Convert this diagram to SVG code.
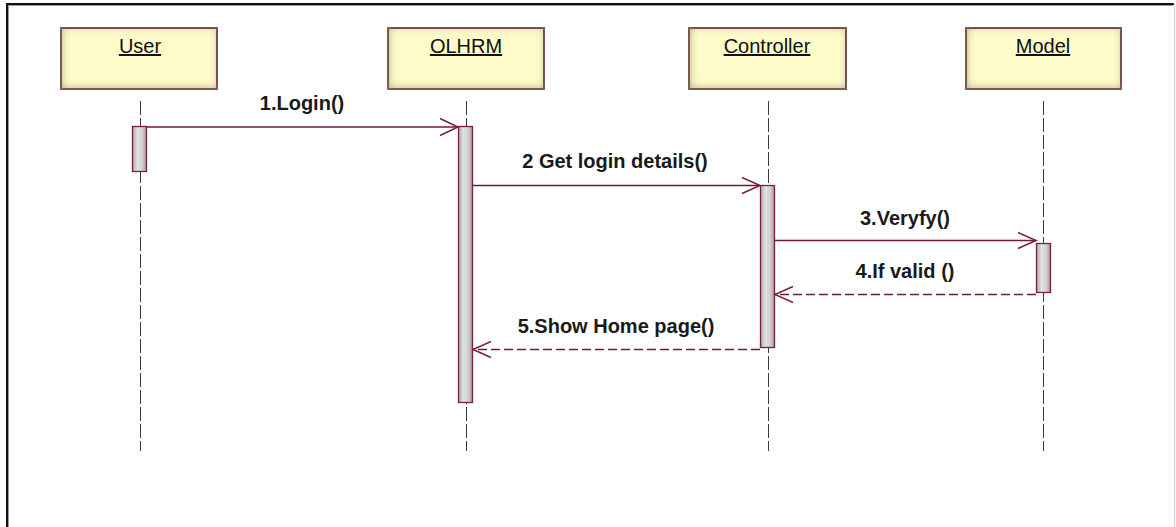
<svg xmlns="http://www.w3.org/2000/svg" width="1176" height="527" viewBox="0 0 1176 527">
  <style>
    .obj rect { fill: #fdfbc9; stroke: #74364f; stroke-width: 2; }
    .obj text { font-family: "Liberation Sans", Arial, sans-serif; font-size: 20px; fill: #111111; text-anchor: middle; text-decoration: underline; }
    .life { stroke: #3a3a3a; stroke-width: 1; stroke-dasharray: 14 3; fill: none; }
    .act { fill: url(#actFill); stroke: #7a1f42; stroke-width: 1.3; }
    .msg { stroke: #6e1a3c; stroke-width: 1.5; fill: none; }
    .ret { stroke: #6e1a3c; stroke-width: 1.5; fill: none; stroke-dasharray: 9 4; }
    .head { stroke: #7a1f42; stroke-width: 1.5; fill: none; }
    .lbl { font-family: "Liberation Sans", Arial, sans-serif; font-size: 20px; font-weight: bold; fill: #1a1a1a; text-anchor: middle; }
  </style>
  <defs>
    <linearGradient id="actFill" x1="0" y1="0" x2="1" y2="0">
      <stop offset="0" stop-color="#a9a9a9"/>
      <stop offset="0.35" stop-color="#e2e2e2"/>
      <stop offset="0.7" stop-color="#d0d0d0"/>
      <stop offset="1" stop-color="#9c9c9c"/>
    </linearGradient>
    <!-- soft olive shading along the inside edges of each object box -->
    <filter id="innerShade" x="-5%" y="-10%" width="110%" height="120%">
      <feFlood flood-color="#7e7850" result="f"/>
      <feComposite in="f" in2="SourceAlpha" operator="out" result="frame"/>
      <feGaussianBlur in="frame" stdDeviation="4" result="blur"/>
      <feOffset in="blur" dx="1" dy="-1" result="off"/>
      <feComposite in="off" in2="SourceAlpha" operator="in" result="shade"/>
      <feMerge>
        <feMergeNode in="SourceGraphic"/>
        <feMergeNode in="shade"/>
      </feMerge>
    </filter>
  </defs>

  <rect x="0" y="0" width="1176" height="527" fill="#ffffff"/>

  <!-- window frame -->
  <g id="frame" fill="none">
    <line x1="7" y1="4" x2="1174" y2="4" stroke="#111" stroke-width="2"/>
    <line x1="7" y1="3" x2="7" y2="527" stroke="#111" stroke-width="2"/>
    <line x1="9" y1="5.5" x2="1173" y2="5.5" stroke="#9a9a9a" stroke-width="1"/>
    <line x1="8.5" y1="5" x2="8.5" y2="527" stroke="#9a9a9a" stroke-width="1"/>
    <line x1="1174.5" y1="3" x2="1174.5" y2="527" stroke="#d6d6d6" stroke-width="1.5"/>
  </g>

  <!-- lifelines -->
  <g id="lifelines">
    <line class="life" x1="140.5" y1="101" x2="140.5" y2="451"/>
    <line class="life" x1="466.5" y1="101" x2="466.5" y2="451"/>
    <line class="life" x1="768.5" y1="101" x2="768.5" y2="451"/>
    <line class="life" x1="1043.5" y1="101" x2="1043.5" y2="451"/>
  </g>

  <!-- objects -->
  <g id="user" class="obj">
    <rect x="61" y="28" width="156" height="61" filter="url(#innerShade)"/>
    <text x="140" y="53">User</text>
  </g>
  <g id="olhrm" class="obj">
    <rect x="388" y="28" width="156" height="61" filter="url(#innerShade)"/>
    <text x="466" y="53">OLHRM</text>
  </g>
  <g id="controller" class="obj">
    <rect x="689" y="28" width="157" height="61" filter="url(#innerShade)"/>
    <text x="767" y="53">Controller</text>
  </g>
  <g id="model" class="obj">
    <rect x="966" y="28" width="155" height="61" filter="url(#innerShade)"/>
    <text x="1043" y="53">Model</text>
  </g>

  <!-- activation bars -->
  <g id="activations">
    <rect class="act" x="132.5" y="126.5" width="14" height="45"/>
    <rect class="act" x="458.5" y="126.5" width="14" height="276"/>
    <rect class="act" x="760.5" y="185.5" width="14" height="162"/>
    <rect class="act" x="1036.5" y="243.5" width="14" height="49"/>
  </g>

  <!-- messages -->
  <g id="connectors">
    <line class="msg" x1="147" y1="127" x2="458" y2="127"/>
    <polyline class="head" points="440,118.5 458,127 440,135.5"/>

    <line class="msg" x1="473" y1="185.5" x2="760" y2="185.5"/>
    <polyline class="head" points="742,177.5 760,185.5 742,193.5"/>

    <line class="msg" x1="775" y1="240.5" x2="1036" y2="240.5"/>
    <polyline class="head" points="1018,232.5 1036,240.5 1018,248.5"/>

    <line class="ret" x1="1036" y1="294.5" x2="775" y2="294.5"/>
    <polyline class="head" points="793,286.5 775,294.5 793,302.5"/>

    <line class="ret" x1="760" y1="349.5" x2="473" y2="349.5"/>
    <polyline class="head" points="491,341.5 473,349.5 491,357.5"/>
  </g>

  <!-- message labels -->
  <g id="labels">
    <text class="lbl" x="302" y="110">1.Login()</text>
    <text class="lbl" x="615" y="168">2 Get login details()</text>
    <text class="lbl" x="905" y="225">3.Veryfy()</text>
    <text class="lbl" x="905" y="278">4.If valid ()</text>
    <text class="lbl" x="616" y="333">5.Show Home page()</text>
  </g>
</svg>
